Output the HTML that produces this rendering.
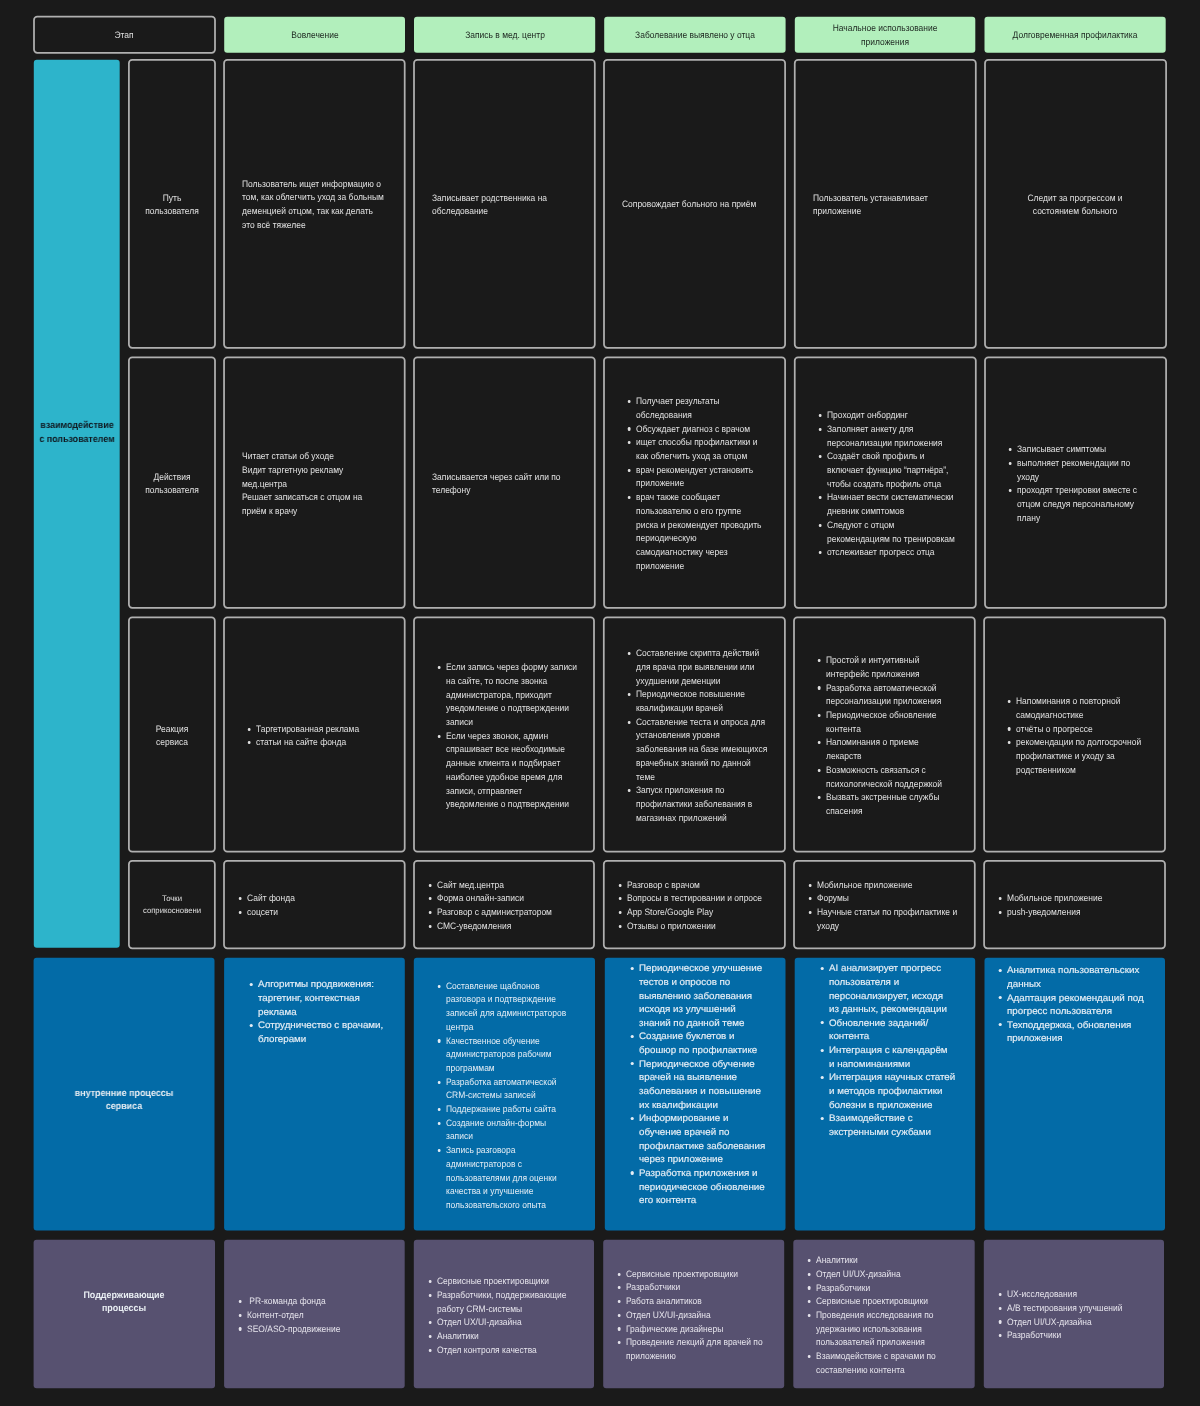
<!DOCTYPE html>
<html lang="ru"><head><meta charset="utf-8"><title>Service blueprint</title>
<style>
html,body{margin:0;padding:0}
body{width:1200px;height:1406px;background:#1a1a1a;position:relative;overflow:hidden;
 font-family:"Liberation Sans",sans-serif;color:#e0e0e0;text-rendering:geometricPrecision}
svg{position:absolute;left:0;top:0}
#txt{position:absolute;left:0;top:0;width:1200px;height:1406px;will-change:transform}
.o{fill:none;stroke:#b0b0b0;stroke-width:1.75}
.g{fill:#b2efbc}
.cy{fill:#2db4cb}
.bl{fill:#036ba7}
.pu{fill:#575170}
.t{position:absolute;margin:0;padding:0;white-space:nowrap;line-height:13.7px;font-size:9.3px;list-style:none;
 transform:scaleX(.911);transform-origin:0 0}
.t.c{text-align:center;transform-origin:50% 0}
.t.w{font-size:9.4px;line-height:13.65px;transform:scaleX(1.043);-webkit-text-stroke:0.17px currentColor}
.t.s{font-size:8px;line-height:12px;transform:scaleX(.965)}
.t.hb{font-weight:bold;font-size:9.6px;transform:scaleX(.93)}
.dk{color:#1c251f}
.dk2{color:#101a22}
.wh{color:#e9eef3}
.lb{color:#e4edf5}
.lp{color:#e6e4ec}
li{position:relative;margin:0;padding:0}
li::before{content:"";position:absolute;left:-9.45px;top:4.9px;width:3.5px;height:3.2px;border-radius:50%;background:currentColor}
.w li::before{left:-8.2px;top:5.4px;width:3.0px;height:3.2px}
</style></head><body>
<svg width="1200" height="1406" viewBox="0 0 1200 1406">
<rect class="o" x="34.00" y="16.60" width="181.00" height="36.30" rx="3.3"/>
<rect class="g" x="224.20" y="16.70" width="180.80" height="36.15" rx="3"/>
<rect class="g" x="414.00" y="16.70" width="181.20" height="36.15" rx="3"/>
<rect class="g" x="604.20" y="16.70" width="181.40" height="36.15" rx="3"/>
<rect class="g" x="794.80" y="16.70" width="180.50" height="36.15" rx="3"/>
<rect class="g" x="984.50" y="16.70" width="181.20" height="36.15" rx="3"/>
<rect class="cy" x="33.80" y="59.70" width="85.90" height="888.10" rx="3"/>
<rect class="o" x="128.90" y="59.90" width="86.10" height="288.00" rx="3.3"/>
<rect class="o" x="224.05" y="59.90" width="180.65" height="288.00" rx="3.3"/>
<rect class="o" x="414.00" y="59.90" width="180.80" height="288.00" rx="3.3"/>
<rect class="o" x="604.00" y="59.90" width="181.10" height="288.00" rx="3.3"/>
<rect class="o" x="794.75" y="59.90" width="181.05" height="288.00" rx="3.3"/>
<rect class="o" x="985.00" y="59.90" width="181.10" height="288.00" rx="3.3"/>
<rect class="o" x="128.90" y="357.30" width="86.10" height="250.60" rx="3.3"/>
<rect class="o" x="224.05" y="357.30" width="180.65" height="250.60" rx="3.3"/>
<rect class="o" x="414.00" y="357.30" width="180.80" height="250.60" rx="3.3"/>
<rect class="o" x="604.00" y="357.30" width="181.10" height="250.60" rx="3.3"/>
<rect class="o" x="794.75" y="357.30" width="181.05" height="250.60" rx="3.3"/>
<rect class="o" x="985.00" y="357.30" width="181.10" height="250.60" rx="3.3"/>
<rect class="o" x="128.90" y="617.40" width="85.95" height="234.30" rx="3.3"/>
<rect class="o" x="224.00" y="617.40" width="180.70" height="234.30" rx="3.3"/>
<rect class="o" x="414.00" y="617.40" width="180.00" height="234.30" rx="3.3"/>
<rect class="o" x="603.80" y="617.40" width="181.10" height="234.30" rx="3.3"/>
<rect class="o" x="794.00" y="617.40" width="180.80" height="234.30" rx="3.3"/>
<rect class="o" x="984.10" y="617.40" width="180.90" height="234.30" rx="3.3"/>
<rect class="o" x="128.90" y="860.90" width="85.95" height="87.50" rx="3.3"/>
<rect class="o" x="224.00" y="860.90" width="180.70" height="87.50" rx="3.3"/>
<rect class="o" x="414.00" y="860.90" width="180.00" height="87.50" rx="3.3"/>
<rect class="o" x="603.80" y="860.90" width="181.10" height="87.50" rx="3.3"/>
<rect class="o" x="794.00" y="860.90" width="180.80" height="87.50" rx="3.3"/>
<rect class="o" x="984.10" y="860.90" width="180.90" height="87.50" rx="3.3"/>
<rect class="bl" x="33.60" y="957.80" width="180.90" height="272.80" rx="3"/>
<rect class="bl" x="224.10" y="957.80" width="180.70" height="272.80" rx="3"/>
<rect class="bl" x="413.80" y="957.80" width="181.20" height="272.80" rx="3"/>
<rect class="bl" x="604.80" y="957.80" width="180.70" height="272.80" rx="3"/>
<rect class="bl" x="794.70" y="957.80" width="180.50" height="272.80" rx="3"/>
<rect class="bl" x="984.50" y="957.80" width="180.50" height="272.80" rx="3"/>
<rect class="pu" x="33.60" y="1239.70" width="181.40" height="148.60" rx="3"/>
<rect class="pu" x="224.10" y="1239.70" width="180.60" height="148.60" rx="3"/>
<rect class="pu" x="413.80" y="1239.70" width="180.20" height="148.60" rx="3"/>
<rect class="pu" x="603.20" y="1239.70" width="181.00" height="148.60" rx="3"/>
<rect class="pu" x="793.30" y="1239.70" width="181.40" height="148.60" rx="3"/>
<rect class="pu" x="983.80" y="1239.70" width="180.20" height="148.60" rx="3"/>
</svg>
<div id="txt">
<div class="t c n " style="left:-25.70px;width:300px;top:29.20px">Этап</div>
<div class="t c n dk" style="left:164.70px;width:300px;top:29.20px">Вовлечение</div>
<div class="t c n dk" style="left:354.70px;width:300px;top:29.20px">Запись в мед. центр</div>
<div class="t c n dk" style="left:544.70px;width:300px;top:29.20px">Заболевание выявлено у отца</div>
<div class="t c n dk" style="left:735.00px;width:300px;top:22.20px">Начальное использование<br>приложения</div>
<div class="t c n dk" style="left:925.00px;width:300px;top:29.20px">Долговременная профилактика</div>
<div class="t c hb dk2" style="left:-73.30px;width:300px;top:419.20px">взаимодействие<br>с пользователем</div>
<div class="t c hb wh" style="left:-26.40px;width:300px;top:1086.70px">внутренние процессы<br>сервиса</div>
<div class="t c hb wh" style="left:-25.70px;width:300px;top:1288.70px">Поддерживающие<br>процессы</div>
<div class="t c n " style="left:21.60px;width:300px;top:191.70px">Путь<br>пользователя</div>
<div class="t c n " style="left:21.60px;width:300px;top:470.70px">Действия<br>пользователя</div>
<div class="t c n " style="left:21.60px;width:300px;top:722.70px">Реакция<br>сервиса</div>
<div class="t c s " style="left:21.60px;width:300px;top:893.30px">Точки<br>соприкосновени</div>
<div class="t n " style="left:242.00px;top:177.70px">Пользователь ищет информацию о<br>том, как облегчить уход за больным<br>деменцией отцом, так как делать<br>это всё тяжелее</div>
<div class="t n " style="left:432.00px;top:191.70px">Записывает родственника на<br>обследование</div>
<div class="t n " style="left:622.00px;top:198.20px">Сопровождает больного на приём</div>
<div class="t n " style="left:812.50px;top:191.70px">Пользователь устанавливает<br>приложение</div>
<div class="t c n " style="left:925.00px;width:300px;top:191.70px">Следит за прогрессом и<br>состоянием больного</div>
<div class="t n " style="left:242.00px;top:450.20px">Читает статьи об уходе<br>Видит таргетную рекламу<br>мед.центра<br>Решает записаться с отцом на<br>приём к врачу</div>
<div class="t n " style="left:432.00px;top:470.70px">Записывается через сайт или по<br>телефону</div>
<ul class="t n " style="left:636.00px;top:395.20px"><li>Получает результаты<br>обследования</li><li>Обсуждает диагноз с врачом</li><li>ищет способы профилактики и<br>как облегчить уход за отцом</li><li>врач рекомендует установить<br>приложение</li><li>врач также сообщает<br>пользователю о его группе<br>риска и рекомендует проводить<br>периодическую<br>самодиагностику через<br>приложение</li></ul>
<ul class="t n " style="left:826.50px;top:409.20px"><li>Проходит онбординг</li><li>Заполняет анкету для<br>персонализации приложения</li><li>Создаёт свой профиль и<br>включает функцию “партнёра”,<br>чтобы создать профиль отца</li><li>Начинает вести систематически<br>дневник симптомов</li><li>Следуют с отцом<br>рекомендациям по тренировкам</li><li>отслеживает прогресс отца</li></ul>
<ul class="t n " style="left:1017.00px;top:443.20px"><li>Записывает симптомы</li><li>выполняет рекомендации по<br>уходу</li><li>проходят тренировки вместе с<br>отцом следуя персональному<br>плану</li></ul>
<ul class="t n " style="left:256.00px;top:722.70px"><li>Таргетированная реклама</li><li>статьи на сайте фонда</li></ul>
<ul class="t n " style="left:445.50px;top:661.20px"><li>Если запись через форму записи<br>на сайте, то после звонка<br>администратора, приходит<br>уведомление о подтверждении<br>записи</li><li>Если через звонок, админ<br>спрашивает все необходимые<br>данные клиента и подбирает<br>наиболее удобное время для<br>записи, отправляет<br>уведомление о подтверждении</li></ul>
<ul class="t n " style="left:635.50px;top:647.20px"><li>Составление скрипта действий<br>для врача при выявлении или<br>ухудшении деменции</li><li>Периодическое повышение<br>квалификации врачей</li><li>Составление теста и опроса для<br>установления уровня<br>заболевания на базе имеющихся<br>врачебных знаний по данной<br>теме</li><li>Запуск приложения по<br>профилактики заболевания в<br>магазинах приложений</li></ul>
<ul class="t n " style="left:826.00px;top:654.20px"><li>Простой и интуитивный<br>интерфейс приложения</li><li>Разработка автоматической<br>персонализации приложения</li><li>Периодическое обновление<br>контента</li><li>Напоминания о приеме<br>лекарств</li><li>Возможность связаться с<br>психологической поддержкой</li><li>Вызвать экстренные службы<br>спасения</li></ul>
<ul class="t n " style="left:1015.50px;top:695.20px"><li>Напоминания о повторной<br>самодиагностике</li><li>отчёты о прогрессе</li><li>рекомендации по долгосрочной<br>профилактике и уходу за<br>родственником</li></ul>
<ul class="t n " style="left:246.50px;top:892.20px"><li>Сайт фонда</li><li>соцсети</li></ul>
<ul class="t n " style="left:436.50px;top:878.70px"><li>Сайт мед.центра</li><li>Форма онлайн-записи</li><li>Разговор с администратором</li><li>СМС-уведомления</li></ul>
<ul class="t n " style="left:626.50px;top:878.70px"><li>Разговор с врачом</li><li>Вопросы в тестировании и опросе</li><li>App Store/Google Play</li><li>Отзывы о приложении</li></ul>
<ul class="t n " style="left:816.50px;top:878.70px"><li>Мобильное приложение</li><li>Форумы</li><li>Научные статьи по профилактике и<br>уходу</li></ul>
<ul class="t n " style="left:1007.00px;top:892.20px"><li>Мобильное приложение</li><li>push-уведомления</li></ul>
<ul class="t w lb" style="left:258.00px;top:977.20px"><li>Алгоритмы продвижения:<br>таргетинг, контекстная<br>реклама</li><li>Сотрудничество с врачами,<br>блогерами</li></ul>
<ul class="t n lb" style="left:445.50px;top:979.70px"><li>Составление щаблонов<br>разговора и подтверждение<br>записей для администраторов<br>центра</li><li>Качественное обучение<br>администраторов рабочим<br>программам</li><li>Разработка автоматической<br>CRM-системы записей</li><li>Поддержание работы сайта</li><li>Создание онлайн-формы<br>записи</li><li>Запись разговора<br>администраторов с<br>пользователями для оценки<br>качества и улучшение<br>пользовательского опыта</li></ul>
<ul class="t w lb" style="left:639.00px;top:961.20px"><li>Периодическое улучшение<br>тестов и опросов по<br>выявлению заболевания<br>исходя из улучшений<br>знаний по данной теме</li><li>Создание буклетов и<br>брошюр по профилактике</li><li>Периодическое обучение<br>врачей на выявление<br>заболевания и повышение<br>их квалификации</li><li>Информирование и<br>обучение врачей по<br>профилактике заболевания<br>через приложение</li><li>Разработка приложения и<br>периодическое обновление<br>его контента</li></ul>
<ul class="t w lb" style="left:828.50px;top:961.20px"><li>AI анализирует прогресс<br>пользователя и<br>персонализирует, исходя<br>из данных, рекомендации</li><li>Обновление заданий/<br>контента</li><li>Интеграция с календарём<br>и напоминаниями</li><li>Интеграция научных статей<br>и методов профилактики<br>болезни в приложение</li><li>Взаимодействие с<br>экстренными сужбами</li></ul>
<ul class="t w lb" style="left:1007.00px;top:963.20px"><li>Аналитика пользовательских<br>данных</li><li>Адаптация рекомендаций под<br>прогресс пользователя</li><li>Техподдержка, обновления<br>приложения</li></ul>
<ul class="t n lp" style="left:247.00px;top:1295.20px"><li> PR-команда фонда</li><li>Контент-отдел</li><li>SEO/ASO-продвижение</li></ul>
<ul class="t n lp" style="left:436.50px;top:1275.20px"><li>Сервисные проектировщики</li><li>Разработчики, поддерживающие<br>работу CRM-системы</li><li>Отдел UX/UI-дизайна</li><li>Аналитики</li><li>Отдел контроля качества</li></ul>
<ul class="t n lp" style="left:626.00px;top:1267.70px"><li>Сервисные проектировщики</li><li>Разработчики</li><li>Работа аналитиков</li><li>Отдел UX/UI-дизайна</li><li>Графические дизайнеры</li><li>Проведение лекций для врачей по<br>приложению</li></ul>
<ul class="t n lp" style="left:816.00px;top:1254.20px"><li>Аналитики</li><li>Отдел UI/UX-дизайна</li><li>Разработчики</li><li>Сервисные проектировщики</li><li>Проведения исследования по<br>удержанию использования<br>пользователей приложения</li><li>Взаимодействие с врачами по<br>составлению контента</li></ul>
<ul class="t n lp" style="left:1006.50px;top:1288.20px"><li>UX-исследования</li><li>A/B тестирования улучшений</li><li>Отдел UI/UX-дизайна</li><li>Разработчики</li></ul>
</div>
</body></html>
